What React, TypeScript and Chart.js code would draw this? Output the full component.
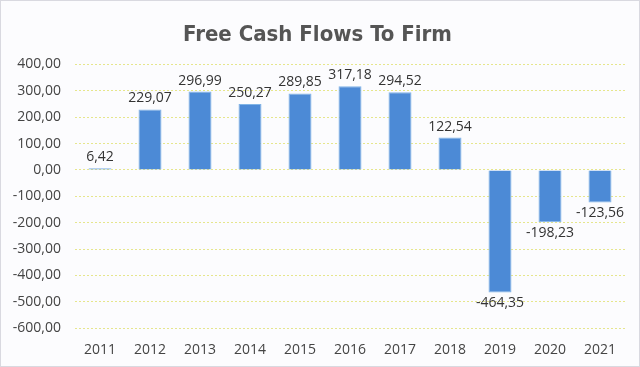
import React, { useEffect, useRef } from "react";
import { Chart, registerables } from "chart.js";

Chart.register(...registerables);

const categories = ["2011", "2012", "2013", "2014", "2015", "2016", "2017", "2018", "2019", "2020", "2021"];
const fcffValues = [6.42, 229.07, 296.99, 250.27, 289.85, 317.18, 294.52, 122.54, -464.35, -198.23, -123.56];
const titleText = "Free Cash Flows To Firm";

const fmt = (v: number) => v.toFixed(2).replace(".", ",");

const dataLabels = {
  id: "dataLabels",
  afterDatasetsDraw(chart: any) {
    const ctx = chart.ctx;
    const meta = chart.getDatasetMeta(0);
    ctx.save();
    ctx.font = "14px 'Open Sans', sans-serif";
    ctx.fillStyle = "#333333";
    ctx.textAlign = "center";
    meta.data.forEach((bar: any, i: number) => {
      const v = fcffValues[i];
      if (v >= 0) {
        ctx.textBaseline = "bottom";
        ctx.fillText(fmt(v), bar.x, bar.y - 4);
      } else {
        ctx.textBaseline = "top";
        ctx.fillText(fmt(v), bar.x, bar.y + 4);
      }
    });
    ctx.restore();
  },
};

const background = {
  id: "bg",
  beforeDraw(chart: any) {
    const ctx = chart.ctx;
    ctx.save();
    ctx.fillStyle = "#fcfcfe";
    ctx.fillRect(0, 0, chart.width, chart.height);
    ctx.strokeStyle = "#d9d9e0";
    ctx.lineWidth = 1;
    ctx.strokeRect(0.5, 0.5, chart.width - 1, chart.height - 1);
    ctx.restore();
  },
};

export default function App() {
  const ref = useRef<HTMLCanvasElement>(null);
  useEffect(() => {
    document.body.style.margin = "0";
    const chart = new Chart(ref.current!, {
      type: "bar",
      data: {
        labels: categories,
        datasets: [
          {
            data: fcffValues,
            backgroundColor: "#4c8ad6",
            borderColor: "#80b4e6",
            borderWidth: 1,
            barPercentage: 0.46,
            categoryPercentage: 1,
          },
        ],
      },
      options: {
        animation: false,
        responsive: false,
        maintainAspectRatio: false,
        layout: { padding: { left: 10, right: 15, top: 10, bottom: 4 } },
        plugins: {
          legend: { display: false },
          tooltip: { enabled: false },
          title: {
            display: true,
            text: titleText,
            color: "#555555",
            font: { family: "'DejaVu Sans Condensed', 'DejaVu Sans', sans-serif", size: 22, weight: "bold" },
            padding: { top: 12, bottom: 16 },
          },
        },
        scales: {
          x: {
            grid: { display: false },
            border: { display: false },
            ticks: { color: "#444444", font: { family: "'Open Sans', sans-serif", size: 14 }, padding: 5 },
          },
          y: {
            min: -600,
            max: 400,
            afterFit: (s: any) => {
              s.width = 65;
            },
            grid: { color: "#e6e68c", lineWidth: 1, drawTicks: false },
            border: { display: false, dash: [2, 2] },
            ticks: {
              stepSize: 100,
              color: "#444444",
              padding: 14,
              font: { family: "'Open Sans', sans-serif", size: 14 },
              callback: (v: any) => fmt(Number(v)),
            },
          },
        },
      },
      plugins: [background, dataLabels],
    });
    return () => chart.destroy();
  }, []);
  return (
    <div style={{ width: 640, height: 367 }}>
      <canvas ref={ref} width={640} height={367} style={{ display: "block" }} />
    </div>
  );
}
